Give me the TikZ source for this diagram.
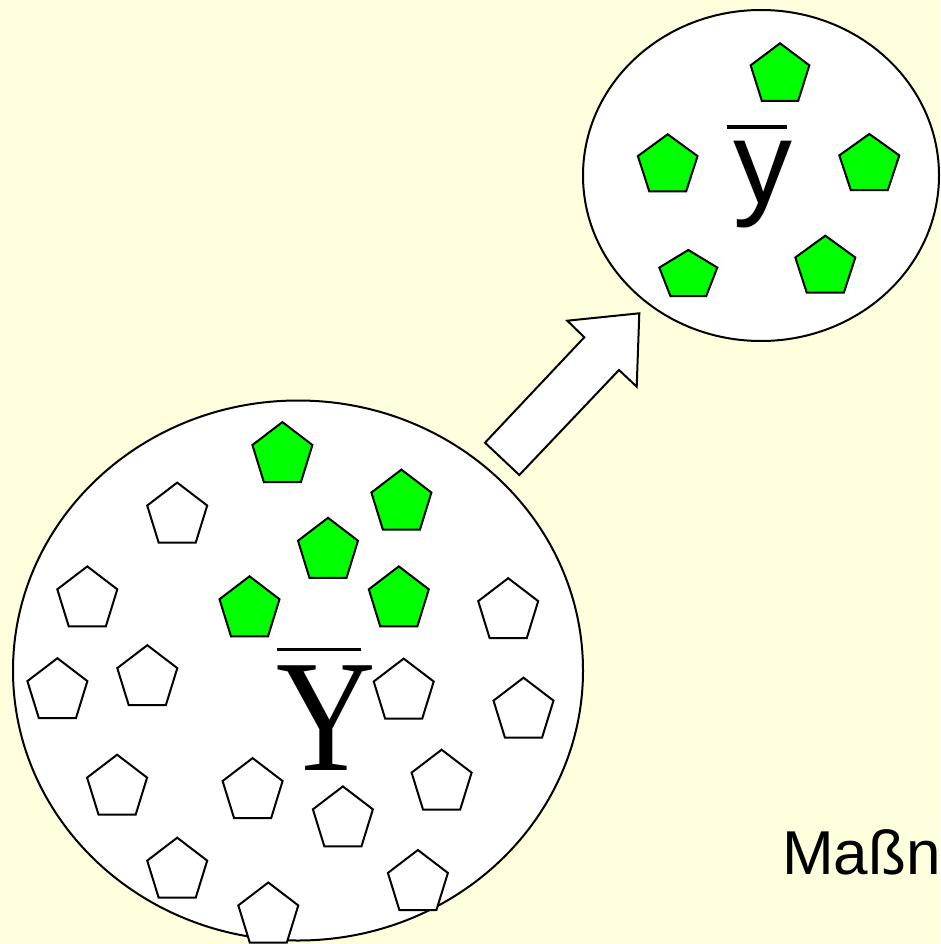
\documentclass[tikz,border=0pt]{standalone}
\usepackage{fontspec}
\setmainfont{Liberation Serif}
\newfontfamily\arialfont{Liberation Sans}
\usetikzlibrary{shapes.geometric}
\definecolor{bgyellow}{RGB}{255,255,221}
\definecolor{pgreen}{RGB}{0,255,0}
\tikzset{
  outline/.style={draw=black, line width=2pt},
  pics/pent/.style n args={3}{code={
    \draw[outline, line join=miter, fill=#3] (0,0) -- (#1/2,0.382*#2) -- (0.309*#1,#2) -- (-0.309*#1,#2) -- (-#1/2,0.382*#2) -- cycle;}},
  bar/.style={draw=black},
}
\begin{document}
\begin{tikzpicture}[x=1pt,y=-1pt]
\useasboundingbox[fill=bgyellow] (0,0) rectangle (940,944);
% ellipses
\node[ellipse, outline, fill=white, minimum width=570pt, minimum height=540pt, inner sep=0pt] (big) at (298,670.5) {};
\node[ellipse, outline, fill=white, minimum width=356pt, minimum height=331pt, inner sep=0pt] (small) at (761,175.5) {};
% arrow
\draw[outline, fill=white, line join=miter] (485,442.7) -- (584.3,337.3) -- (567.3,320.7) -- (639.3,313.3) -- (636.7,386.7) -- (619,370) -- (519.3,475) -- cycle;
% big ellipse: green pentagons
\foreach \px/\py in {282.4/422.1, 401.4/469.6, 328/517.8, 249.5/576.3, 398.8/566.4}
  \pic at (\px,\py) {pent={60}{60}{pgreen}};
% big ellipse: white pentagons
\foreach \px/\py in {177.2/482.6, 87.3/566.4, 57.4/658.2, 147.3/645.2, 508.2/578.2, 403.7/658.6, 523.5/677.7, 117.1/754.7, 252.6/758.1, 441.6/749.7, 342.9/786.4, 177.2/837.7, 268.3/882.5, 417.9/850}
  \pic at (\px,\py) {pent={60}{60}{white}};
% small ellipse: green pentagons
\pic at (780,43.3) {pent={58.7}{57.7}{pgreen}};
\pic at (667.7,134.3) {pent={59.7}{57}{pgreen}};
\pic at (869.3,134) {pent={60}{56}{pgreen}};
\pic at (688.3,250) {pent={58}{46}{pgreen}};
\pic at (825.3,235.7) {pent={60}{57}{pgreen}};
% Y bar
\node[inner sep=0pt, anchor=base, font=\fontsize{160}{160}\selectfont] (Ybig) at (326.3,770) {\scalebox{0.86}[1]{Y}};
\draw[bar, line width=3pt] (277,649) -- (360.5,649);
% y bar
\node[inner sep=0pt, anchor=base, font=\arialfont\fontsize{118}{118}\selectfont] (ysmall) at (762.5,204) {y};
\draw[bar, line width=4pt] (726.7,126.7) -- (786.7,126.7);
% text
\node[inner sep=0pt, anchor=base west, font=\arialfont\fontsize{62}{62}\selectfont] (massn) at (782,874) {Maßn};
\end{tikzpicture}
\end{document}
